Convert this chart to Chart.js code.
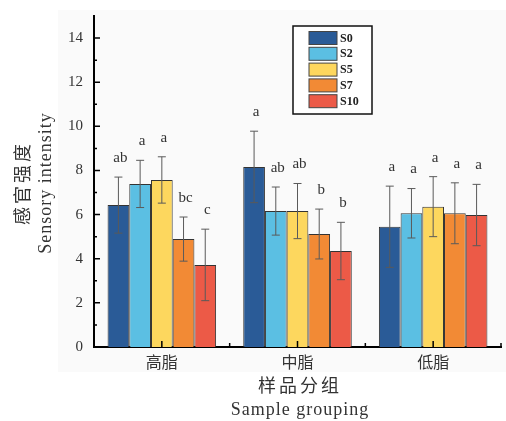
<!DOCTYPE html>
<html>
<head>
<meta charset="utf-8">
<script src="https://cdn.jsdelivr.net/npm/chart.js@4.4.1/dist/chart.umd.min.js"></script>
<style>
  html, body { margin: 0; padding: 0; background: #ffffff; }
  #c { display: block; }
</style>
</head>
<body>
<canvas id="c" width="506" height="421"></canvas>
<script>
// ---- data ----
const categories = ['高脂', '中脂', '低脂'];
const seriesNames = ['S0', 'S2', 'S5', 'S7', 'S10'];
const seriesColors = ['#2A5B97', '#5BBFE3', '#FDD75E', '#F28A35', '#EC5A47'];
const S0  = [6.43, 8.16, 5.45];
const S2  = [7.39, 6.16, 6.06];
const S5  = [7.57, 6.16, 6.36];
const S7  = [4.89, 5.12, 6.06];
const S10 = [3.72, 4.35, 5.98];
const S0_err  = [1.27, 1.62, 1.84];
const S2_err  = [1.07, 1.09, 1.12];
const S5_err  = [1.05, 1.25, 1.36];
const S7_err  = [1.00, 1.13, 1.38];
const S10_err = [1.62, 1.30, 1.39];
const S0_sig  = ['ab', 'a', 'a'];
const S2_sig  = ['a', 'ab', 'a'];
const S5_sig  = ['a', 'ab', 'a'];
const S7_sig  = ['bc', 'b', 'a'];
const S10_sig = ['c', 'b', 'a'];
const yTicks = [0, 2, 4, 6, 8, 10, 12, 14];
const yMin = 0, yMax = 15;
const yTitle = ['感官强度', 'Sensory intensity'];
const xTitle = ['样品分组', 'Sample grouping'];

const values = [S0, S2, S5, S7, S10];
const errs = [S0_err, S2_err, S5_err, S7_err, S10_err];
const sigs = [S0_sig, S2_sig, S5_sig, S7_sig, S10_sig];

const SERIF = '"Liberation Serif", "DejaVu Serif", "Noto Sans CJK SC", serif';
const CJK = '"Noto Sans CJK SC", "Liberation Serif", sans-serif';

const extras = {
  id: 'extras',
  beforeDraw(chart) {
    const ctx = chart.ctx;
    ctx.save();
    ctx.fillStyle = '#ffffff';
    ctx.fillRect(0, 0, chart.width, chart.height);
    ctx.fillStyle = '#fafafa';
    ctx.fillRect(58, 10, chart.width - 58, 362);
    ctx.restore();
  },
  afterDatasetsDraw(chart) {
    const ctx = chart.ctx;
    const ys = chart.scales.y, xs = chart.scales.x;
    ctx.save();
    // error bars + letters
    values.forEach((arr, d) => {
      const meta = chart.getDatasetMeta(d);
      arr.forEach((v, i) => {
        const bar = meta.data[i];
        const x = bar.x;
        const yTop = ys.getPixelForValue(v + errs[d][i]);
        const yBot = ys.getPixelForValue(v - errs[d][i]);
        ctx.strokeStyle = '#5a5a5a';
        ctx.lineWidth = 1;
        ctx.beginPath();
        ctx.moveTo(x, yTop); ctx.lineTo(x, yBot);
        ctx.moveTo(x - 4, yTop); ctx.lineTo(x + 4, yTop);
        ctx.moveTo(x - 4, yBot); ctx.lineTo(x + 4, yBot);
        ctx.stroke();
        ctx.fillStyle = '#333';
        ctx.font = '15px ' + SERIF;
        ctx.textAlign = 'center';
        ctx.textBaseline = 'middle';
        ctx.fillText(sigs[d][i], x + 2, yTop - 19);
      });
    });
    // inward ticks on y axis
    const ax = chart.chartArea.left;
    ctx.strokeStyle = '#000';
    ctx.lineWidth = 1.5;
    ctx.beginPath();
    for (let v = yMin + 1; v < yMax; v++) {
      const y = ys.getPixelForValue(v);
      const len = v % 2 === 0 ? 6 : 3;
      ctx.moveTo(ax, y); ctx.lineTo(ax + len, y);
    }
    // inward ticks on x axis
    const by = chart.chartArea.bottom;
    categories.forEach((c, i) => {
      const xc = xs.getPixelForValue(i);
      ctx.moveTo(xc, by); ctx.lineTo(xc, by - 6);
      const xb = xs.getPixelForValue(i + 0.5);
      ctx.moveTo(xb, by); ctx.lineTo(xb, by - 4);
    });
    ctx.stroke();
    // legend
    const lx = 293, ly = 26, lw = 79, lh = 88;
    ctx.fillStyle = '#ffffff';
    ctx.fillRect(lx, ly, lw, lh);
    ctx.strokeStyle = '#111';
    ctx.lineWidth = 1.5;
    ctx.strokeRect(lx, ly, lw, lh);
    seriesNames.forEach((n, k) => {
      const cy = 38 + k * 15.8;
      ctx.fillStyle = seriesColors[k];
      ctx.fillRect(309, cy - 6.5, 28, 13);
      ctx.strokeStyle = '#444';
      ctx.lineWidth = 1;
      ctx.strokeRect(309, cy - 6.5, 28, 13);
      ctx.fillStyle = '#222';
      ctx.font = 'bold 12px ' + SERIF;
      ctx.textAlign = 'left';
      ctx.textBaseline = 'middle';
      ctx.fillText(n, 340, cy + 0.5);
    });
    // axis titles
    ctx.fillStyle = '#333';
    ctx.textAlign = 'center';
    ctx.textBaseline = 'middle';
    ctx.letterSpacing = '3px';
    ctx.font = '18px ' + CJK;
    ctx.fillText(xTitle[0], 300, 385);
    ctx.letterSpacing = '1px';
    ctx.font = '18px ' + SERIF;
    ctx.fillText(xTitle[1], 300, 410);
    ctx.save();
    ctx.translate(22, 183);
    ctx.rotate(-Math.PI / 2);
    ctx.letterSpacing = '3px';
    ctx.font = '18px ' + CJK;
    ctx.fillText(yTitle[0], 0, 0);
    ctx.restore();
    ctx.save();
    ctx.translate(46, 183);
    ctx.rotate(-Math.PI / 2);
    ctx.letterSpacing = '1px';
    ctx.font = '18px ' + SERIF;
    ctx.fillText(yTitle[1], 0, 0);
    ctx.restore();
    ctx.letterSpacing = '0px';
    ctx.restore();
  }
};

new Chart(document.getElementById('c'), {
  type: 'bar',
  data: {
    labels: categories,
    datasets: values.map((arr, k) => ({
      label: seriesNames[k],
      data: arr,
      backgroundColor: seriesColors[k],
      borderColor: '#333',
      borderWidth: 1,
      categoryPercentage: 0.8,
      barPercentage: 1.0
    }))
  },
  options: {
    responsive: false,
    animation: false,
    devicePixelRatio: 1,
    layout: { padding: { top: 16, right: 5, left: 0, bottom: 0 } },
    plugins: { legend: { display: false }, tooltip: { enabled: false } },
    scales: {
      y: {
        min: yMin, max: yMax,
        afterBuildTicks: s => { s.ticks = yTicks.map(v => ({ value: v })); },
        afterFit: s => { s.width = 94; s.paddingTop = 0; s.paddingBottom = 0; },
        grid: { display: false, drawTicks: false },
        border: { display: true, color: '#000', width: 2 },
        ticks: { color: '#333', font: { family: SERIF, size: 15 }, padding: 11 }
      },
      x: {
        offset: true,
        afterFit: s => { s.height = 74; s.paddingLeft = 0; s.paddingRight = 0; },
        grid: { display: false, drawTicks: false },
        border: { display: true, color: '#000', width: 2 },
        ticks: { color: '#333', font: { family: CJK, size: 16 }, padding: 5 }
      }
    }
  },
  plugins: [extras]
});
</script>
</body>
</html>
